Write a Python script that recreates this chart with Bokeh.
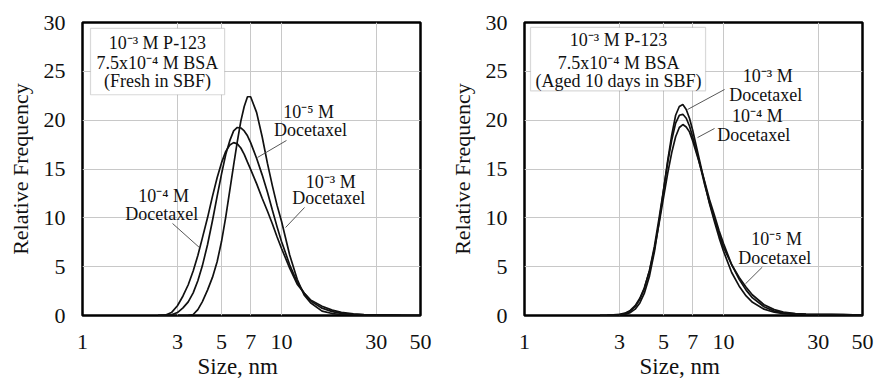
from bokeh.plotting import figure
from bokeh.layouts import row
from bokeh.models import (FixedTicker, BoxAnnotation, Label, Range1d, Title,
                          BasicTickFormatter, ColumnDataSource)
from bokeh.embed import file_html
from bokeh.resources import INLINE

# ---------------- data ----------------
size_nm = [2.4, 2.6, 2.8, 3.0, 3.2, 3.4, 3.6, 3.8, 4.0, 4.25, 4.5, 4.75, 5.0, 5.25,
           5.5, 5.75, 6.0, 6.25, 6.5, 6.75, 7.0, 7.5, 8.0, 8.5, 9.0, 9.5, 10, 11,
           12, 13, 14, 16, 18, 20, 23, 26, 30, 35, 40, 50]

# Fresh in SBF
fresh_1e4 = [0, 0.03, 0.3, 1.0, 2.0, 3.15, 4.55, 6.15, 7.9, 10.0, 12.2, 14.1, 15.65, 16.8,
             17.45, 17.7, 17.57, 17.15, 16.5, 15.7, 14.96, 13.5, 12.0, 10.7, 9.4, 8.07, 6.89, 4.85,
             3.2, 2.3, 1.6, 0.95, 0.55, 0.32, 0.17, 0.1, 0.06, 0.04, 0.02, 0.0]
fresh_1e5 = [0, 0.0, 0.06, 0.3, 0.78, 1.4, 2.32, 3.56, 5.06, 7.24, 9.7, 12.2, 14.5, 16.5,
             17.9, 18.9, 19.25, 19.2, 18.9, 18.4, 17.7, 16.1, 14.4, 12.65, 10.8, 9.1, 7.6, 5.2,
             3.4, 2.3, 1.5, 0.75, 0.4, 0.22, 0.12, 0.07, 0.04, 0.03, 0.02, 0.0]
fresh_1e3 = [0, 0, 0, 0, 0, 0.02, 0.1, 0.6, 1.4, 2.6, 3.9, 5.5, 7.6, 10.1,
             12.8, 15.4, 17.8, 19.9, 21.4, 22.4, 22.4, 20.8, 18.3, 15.6, 13.3, 11.3, 9.67, 6.2,
             3.7, 2.1, 1.3, 0.45, 0.2, 0.1, 0.05, 0.03, 0.02, 0.01, 0.0, 0.0]

# Aged 10 days in SBF
aged_1e3 = [0, 0, 0.01, 0.04, 0.12, 0.29, 0.65, 1.29, 2.26, 4.05, 6.55, 9.6, 12.8, 15.9,
            18.5, 20.5, 21.4, 21.6, 21.1, 20.2, 19.0, 16.3, 13.8, 11.5, 9.66, 8.0, 6.6, 4.4,
            3.0, 2.0, 1.35, 0.65, 0.33, 0.2, 0.12, 0.08, 0.07, 0.07, 0.05, 0.02]
aged_1e4 = [0, 0.02, 0.06, 0.12, 0.24, 0.52, 1.0, 1.76, 2.81, 4.58, 6.84, 9.47, 12.1, 14.6,
            16.7, 18.3, 19.25, 19.55, 19.3, 18.8, 17.9, 15.9, 13.9, 11.9, 10.3, 8.7, 7.4, 5.2,
            3.7, 2.6, 1.8, 0.9, 0.45, 0.28, 0.16, 0.12, 0.1, 0.1, 0.08, 0.03]
aged_1e5 = [0, 0.01, 0.03, 0.08, 0.19, 0.44, 0.9, 1.65, 2.73, 4.62, 7.09, 10.0, 12.9, 15.7,
            18.0, 19.7, 20.5, 20.6, 20.2, 19.4, 18.3, 16.0, 13.6, 11.6, 9.9, 8.4, 7.0, 5.2,
            3.9, 2.9, 2.1, 1.1, 0.6, 0.35, 0.2, 0.14, 0.12, 0.12, 0.1, 0.03]

x_ticks = [1, 3, 5, 7, 10, 30, 50]
x_tick_labels = ["1", "3", "5", "7", "10", "30", "50"]
y_ticks = [0, 5, 10, 15, 20, 25, 30]
x_title = "Size, nm"
y_title = "Relative Frequency"

fresh_box_lines = ["10\u207b\u00b3 M P-123", "7.5x10\u207b\u2074 M BSA", "(Fresh in SBF)"]
aged_box_lines = ["10\u207b\u00b3 M P-123", "7.5x10\u207b\u2074 M BSA", "(Aged 10 days in SBF)"]

# annotation layout (text, x, y) and leader lines (x0, y0, x1, y1)
fresh_labels = [("10\u207b\u2075 M", 13.7, 20.8), ("Docetaxel", 14.0, 19.0),
                ("10\u207b\u00b3 M", 17.7, 13.7), ("Docetaxel", 17.3, 12.0),
                ("10\u207b\u2074 M", 2.56, 12.2), ("Docetaxel", 2.50, 10.35)]
fresh_leaders = dict(x0=[10.6, 13.07, 2.835], y0=[17.92, 11.06, 9.42],
                     x1=[7.58, 10.49, 3.87], y1=[16.18, 9.01, 6.96])
aged_labels = [("10\u207b\u00b3 M", 16.7, 24.5), ("Docetaxel", 16.3, 22.6),
               ("10\u207b\u2074 M", 14.8, 20.4), ("Docetaxel", 14.2, 18.5),
               ("10\u207b\u2075 M", 18.5, 7.8), ("Docetaxel", 18.1, 5.85)]
aged_leaders = dict(x0=[10.13, 9.02, 15.67], y0=[23.14, 19.15, 4.95],
                    x1=[6.60, 7.41, 12.9], y1=[21.09, 18.22, 3.24])

FONT = "Liberation Serif"
TXT = "#111111"


def make_fig(width, border_left, border_right):
    p = figure(x_axis_type="log", x_range=Range1d(1, 50), y_range=Range1d(0, 30),
               width=width, height=379,
               min_border_left=border_left, min_border_right=border_right,
               min_border_top=22, min_border_bottom=64,
               output_backend="svg", toolbar_location=None)
    p.background_fill_color = "white"
    p.border_fill_color = "white"
    p.outline_line_color = "black"
    p.outline_line_width = 2.5

    p.xaxis.ticker = FixedTicker(ticks=x_ticks)
    p.xaxis.formatter = BasicTickFormatter()
    p.xaxis.major_label_overrides = {t: l for t, l in zip(x_ticks, x_tick_labels)}
    p.yaxis.ticker = FixedTicker(ticks=y_ticks)

    for ax in (p.xaxis, p.yaxis):
        ax.axis_line_color = None
        ax.major_tick_line_color = None
        ax.minor_tick_line_color = None
        ax.major_label_text_font = FONT
        ax.major_label_text_font_size = "22px"
        ax.major_label_text_color = TXT
        ax.axis_label_text_font = FONT
        ax.axis_label_text_font_size = "22px"
        ax.axis_label_text_font_style = "normal"
        ax.axis_label_text_color = TXT

    p.yaxis.axis_label = y_title
    p.xaxis.major_label_standoff = 13
    p.yaxis.major_label_standoff = 11
    p.yaxis.axis_label_standoff = 8

    # x-axis title, set slightly left of centre as in the original
    p.add_layout(Title(text=x_title, align="left", offset=115, standoff=0,
                       text_font=FONT, text_font_size="23px",
                       text_font_style="normal", text_color=TXT), "below")

    p.grid.grid_line_color = "#c8c8c8"
    p.grid.grid_line_width = 1
    return p


def add_box(p, left, right, bottom, top, lines, cx, ys):
    p.add_layout(BoxAnnotation(left=left, right=right, bottom=bottom, top=top,
                               fill_color="white", fill_alpha=1.0,
                               line_color="#808080", line_width=1.2))
    for txt, yy in zip(lines, ys):
        p.add_layout(Label(x=cx, y=yy, text=txt, text_align="center",
                           text_baseline="middle", text_font=FONT,
                           text_font_size="18px", text_color=TXT))


def add_labels(p, labels, leaders):
    for txt, xx, yy in labels:
        p.add_layout(Label(x=xx, y=yy, text=txt, text_align="center",
                           text_baseline="middle", text_font=FONT,
                           text_font_size="18px", text_color=TXT))
    p.segment(x0="x0", y0="y0", x1="x1", y1="y1", source=ColumnDataSource(leaders),
              line_color="#444444", line_width=0.9)


# ---------------- left panel ----------------
p1 = make_fig(438, 82, 18)
for ys in (fresh_1e4, fresh_1e5, fresh_1e3):
    p1.line(size_nm, ys, line_color="#111111", line_width=1.7)
add_box(p1, 1.097, 5.18, 22.6, 29.4, fresh_box_lines, 2.38, [27.95, 25.9, 23.96])
add_labels(p1, fresh_labels, fresh_leaders)

# ---------------- right panel ----------------
p2 = make_fig(436, 86, 12)
for ys in (aged_1e3, aged_1e4, aged_1e5):
    p2.line(size_nm, ys, line_color="#111111", line_width=1.7)
add_box(p2, 1.072, 8.13, 23.0, 29.5, aged_box_lines, 2.97, [28.16, 25.9, 24.06])
add_labels(p2, aged_labels, aged_leaders)

layout = row(p1, p2)
open("out.html", "w").write(file_html(layout, INLINE))
